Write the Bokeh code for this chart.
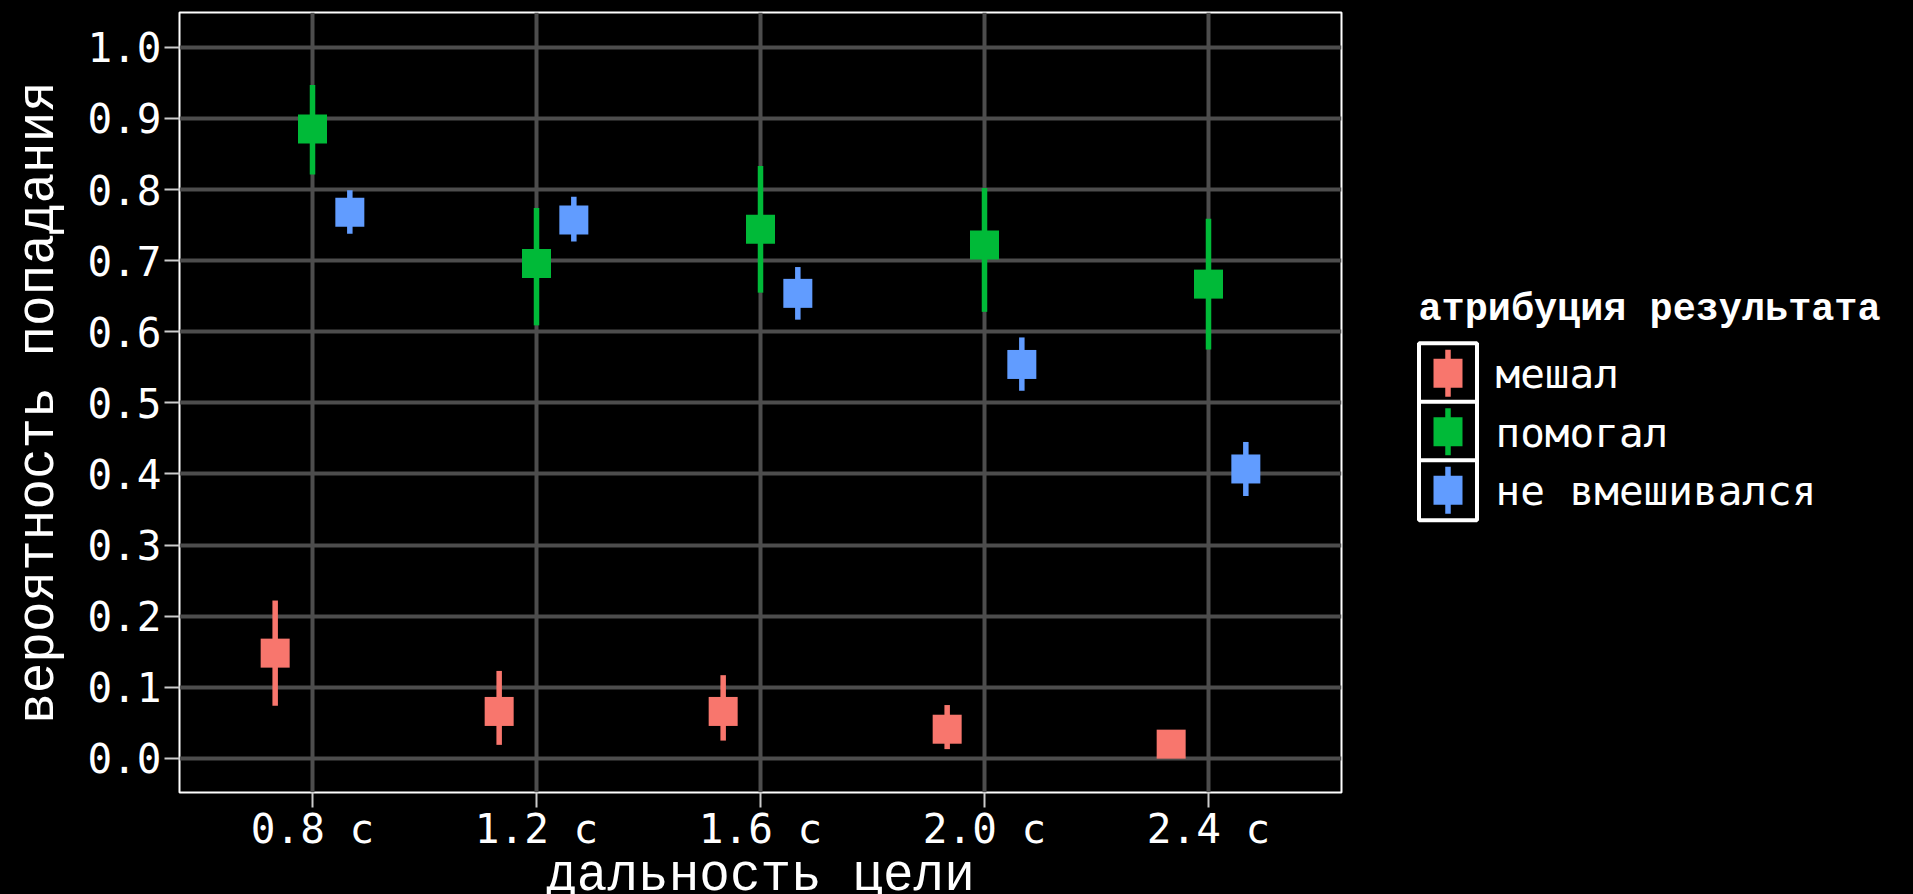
import numpy as np
from bokeh.plotting import figure
from bokeh.models import (Range1d, FixedTicker, ColumnDataSource, FactorRange,
                          PrintfTickFormatter, Spacer)
from bokeh.layouts import row, column
from bokeh.transform import dodge
from bokeh.embed import file_html
from bokeh.resources import INLINE
from bokeh.core.properties import value

# ---------------- data ----------------
distances = [0.8, 1.2, 1.6, 2.0, 2.4]
x_tick_labels = ["0.8 с", "1.2 с", "1.6 с", "2.0 с", "2.4 с"]
y_ticks = [0.0, 0.1, 0.2, 0.3, 0.4, 0.5, 0.6, 0.7, 0.8, 0.9, 1.0]

groups = ["мешал", "помогал", "не вмешивался"]
colors = ["#F8766D", "#00BA38", "#619CFF"]

interfered_mean = [0.148, 0.066, 0.066, 0.041, 0.020]
interfered_lo = [0.074, 0.019, 0.025, 0.013, 0.006]
interfered_hi = [0.222, 0.123, 0.117, 0.075, 0.036]

helped_mean = [0.885, 0.696, 0.744, 0.722, 0.667]
helped_lo = [0.821, 0.609, 0.655, 0.628, 0.575]
helped_hi = [0.947, 0.774, 0.833, 0.802, 0.759]

neutral_mean = [0.768, 0.757, 0.654, 0.554, 0.407]
neutral_lo = [0.738, 0.727, 0.617, 0.517, 0.369]
neutral_hi = [0.799, 0.790, 0.691, 0.592, 0.445]

x_label = "дальность цели"
y_label = "вероятность попадания"
legend_title = "атрибуция результата"

series = [
    (interfered_mean, interfered_lo, interfered_hi),
    (helped_mean, helped_lo, helped_hi),
    (neutral_mean, neutral_lo, neutral_hi),
]

# ---------------- style ----------------
BG = "black"
GRID = "#4d4d4d"
TICK_FONT = "DejaVu Sans Mono"
LABEL_FONT = "Liberation Mono"
DODGE_WIDTH = 0.2
H = 894
MAIN_W = 1400
BORDER_L, BORDER_R = 179, 59
MAIN_H = 858
XLAB_H = H - MAIN_H


def dark(fig):
    fig.background_fill_color = BG
    fig.border_fill_color = BG
    return fig


x_start, x_end = 0.5625, 2.6375
p = dark(figure(width=MAIN_W, height=MAIN_H,
                x_range=Range1d(x_start, x_end), y_range=Range1d(-0.048, 1.049),
                output_backend="svg", toolbar_location=None,
                min_border_left=BORDER_L, min_border_right=BORDER_R,
                min_border_top=12, min_border_bottom=MAIN_H - 12 - 780,
                outline_line_color="white", outline_line_width=2))

for i, ((m, lo, hi), c) in enumerate(zip(series, colors)):
    src = ColumnDataSource(dict(x=distances, mean=m, lo=lo, hi=hi))
    off = (i - 1) * DODGE_WIDTH / 3
    p.segment(x0=dodge("x", off), y0="lo", x1=dodge("x", off), y1="hi",
              source=src, line_color=c, line_width=5.5)
    p.scatter(x=dodge("x", off), y="mean", source=src, marker="square",
              size=29, fill_color=c, line_color=None)

for g in (p.xgrid, p.ygrid):
    g.grid_line_color = GRID
    g.grid_line_width = 4

p.xaxis.ticker = FixedTicker(ticks=distances)
p.xaxis.major_label_overrides = {d: t for d, t in zip(distances, x_tick_labels)}
p.yaxis.ticker = FixedTicker(ticks=y_ticks)
p.yaxis.formatter = PrintfTickFormatter(format="%.1f")

for ax in (p.xaxis[0], p.yaxis[0]):
    ax.axis_line_color = None
    ax.major_tick_out = 15
    ax.major_tick_in = 0
    ax.minor_tick_line_color = None
    ax.major_tick_line_color = "#cccccc"
    ax.major_tick_line_width = 2
    ax.major_label_text_color = "white"
    ax.major_label_text_font = TICK_FONT
    ax.major_label_text_font_size = "41px"
    ax.axis_label_text_font = LABEL_FONT
    ax.axis_label_text_font_size = "51px"
    ax.axis_label_text_font_style = "normal"
    ax.axis_label_text_color = "white"

p.xaxis.major_label_standoff = -3
p.yaxis.major_label_standoff = 3
p.yaxis.axis_label = y_label
p.yaxis.axis_label_standoff = 16

# x-axis title in its own strip under the plot (shares the x range)
xl = dark(figure(width=MAIN_W, height=XLAB_H, x_range=p.x_range,
                 y_range=Range1d(XLAB_H, 0),
                 x_axis_location=None, y_axis_location=None,
                 output_backend="svg", toolbar_location=None,
                 min_border_left=BORDER_L, min_border_right=BORDER_R,
                 min_border_top=0, min_border_bottom=0, outline_line_color=None))
xl.grid.visible = False
xl.text(x=[(x_start + x_end) / 2], y=[18], text=[x_label], text_align="center",
        text_baseline="alphabetic", text_font=value(LABEL_FONT),
        text_font_size="51px", text_color="white")

# ---------------- legend (separate panel) ----------------
LW = 512
ROW = 60
L_TOP = 279
rows = groups[::-1] + [legend_title]
lf = dark(figure(width=LW, height=ROW * len(rows) + 6,
                 x_range=Range1d(0, LW),
                 y_range=FactorRange(factors=rows, range_padding=0.1,
                                     range_padding_units="absolute"),
                 x_axis_location=None, y_axis_location=None,
                 output_backend="svg", toolbar_location=None,
                 min_border=0, outline_line_color=None))
lf.grid.visible = False

lsrc = ColumnDataSource(dict(g=groups, c=colors))
lf.rect(x=47.5, y="g", source=lsrc, width=58, height=ROW,
        width_units="screen", height_units="screen",
        fill_color=BG, line_color="white", line_width=4)
lf.scatter(x=47.5, y="g", source=lsrc, marker="dash", angle=np.pi / 2, size=47,
           line_color="c", line_width=5.5)
lf.scatter(x=47.5, y="g", source=lsrc, marker="square", size=29,
           fill_color="c", line_color=None)
lf.text(x=95, y="g", text="g", source=lsrc, text_font=value(TICK_FONT),
        text_font_size="41px", text_color="white", text_baseline="middle", y_offset=1)
lf.text(x=18, y=[legend_title], text=[legend_title], text_font=value(LABEL_FONT),
        text_font_style="bold", text_font_size="38.5px", text_color="white",
        text_baseline="middle", y_offset=-5)

layout = row(column(p, xl), column(Spacer(width=LW, height=L_TOP), lf))

html = file_html(layout, INLINE)
html = html.replace("<head>", "<head><style>html, body { background: #000; }</style>", 1)
open("out.html", "w").write(html)
